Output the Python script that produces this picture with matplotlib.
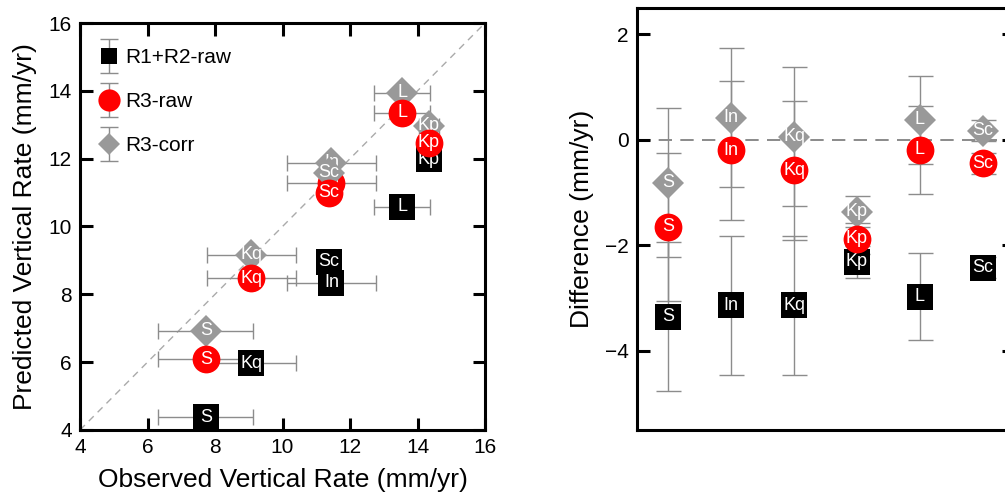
import numpy as np
import matplotlib
matplotlib.use("Agg")
import matplotlib.pyplot as plt
from matplotlib.lines import Line2D
from matplotlib.path import Path

plt.rcParams['font.family'] = ['Liberation Sans', 'DejaVu Sans']

sites = ['S', 'In', 'Kq', 'Kp', 'L', 'Sc']

# left panel: observed vs predicted (mm/yr)
obs = [7.73, 11.45, 9.07, 14.34, 13.55, 11.38]
obs_err = [1.41, 1.32, 1.32, 0.30, 0.83, 0.20]
pred_r12raw = [4.38, 8.34, 5.97, 11.99, 10.58, 8.96]
pred_r3raw = [6.09, 11.29, 8.48, 12.47, 13.35, 10.99]
pred_r3corr = [6.92, 11.88, 9.16, 12.97, 13.94, 11.58]

# right panel: differences (mm/yr)
diff_r12raw = [-3.35, -3.14, -3.14, -2.31, -2.97, -2.42]
diff_r3raw = [-1.65, -0.20, -0.58, -1.87, -0.19, -0.44]
diff_r3corr = [-0.81, 0.42, 0.06, -1.36, 0.38, 0.17]

# name, marker, colour, markersize, legend markersize
series = [
    ('R1+R2-raw', 's', 'black', 19, 11),
    ('R3-corr', 'D', '#999999', 16, 11),
    ('R3-raw', 'o', 'red', 20, 16),
]
left_vals = {'R1+R2-raw': pred_r12raw, 'R3-raw': pred_r3raw, 'R3-corr': pred_r3corr}
right_vals = {'R1+R2-raw': diff_r12raw, 'R3-raw': diff_r3raw, 'R3-corr': diff_r3corr}

# stacking order of the labelled markers
black_rank = {'Sc': 0, 'S': 1, 'Kq': 2, 'Kp': 3, 'L': 4, 'In': 5}
col_rank = {'S': 0, 'Kq': 1, 'Kp': 2, 'L': 3, 'In': 4, 'Sc': 5}


def zorder(name, site):
    if name == 'R1+R2-raw':
        return 3 + black_rank[site] * 0.1
    return 10 + col_rank[site] + (0.5 if name == 'R3-raw' else 0)


ecol = '#8c8c8c'
fig = plt.figure(figsize=(10.05, 4.94), dpi=100)
ax1 = fig.add_axes([0.0796, 0.1296, 0.403, 0.8238])
ax2 = fig.add_axes([0.6338, 0.1296, 0.3752, 0.8542])


def draw(ax, xs, vals, err, horiz, capsize):
    for name, mk, col, ms, lms in series:
        yv = vals[name]
        if horiz:
            ax.errorbar(xs, yv, xerr=err, fmt='none', ecolor=ecol, elinewidth=1,
                        capsize=capsize, capthick=1, zorder=2)
        else:
            ax.errorbar(xs, yv, yerr=err, fmt='none', ecolor=ecol, elinewidth=1,
                        capsize=capsize, capthick=1, zorder=2)
        for x, y, s in zip(xs, yv, sites):
            z = zorder(name, s)
            ax.plot([x], [y], ls='none', marker=mk, color=col, ms=ms, mew=0, zorder=z)
            ax.text(x, y, s, color='white', fontsize=13, ha='center', va='center',
                    zorder=z + 0.05)


# ---- left
ax1.plot([4, 16], [4, 16], color='#aaaaaa', lw=1, dashes=(5, 4), zorder=1)
draw(ax1, obs, left_vals, obs_err, True, 6)

# legend: vertical error bar with caps behind each marker
ebar_path = Path([(0, -1), (0, 1), (-0.53, -1), (0.53, -1), (-0.53, 1), (0.53, 1)],
                 [Path.MOVETO, Path.LINETO, Path.MOVETO, Path.LINETO,
                  Path.MOVETO, Path.LINETO])
handles, labels = [], []
for name in ['R1+R2-raw', 'R3-raw', 'R3-corr']:
    mk, col, ms, lms = {s[0]: s[1:] for s in series}[name]
    bar = Line2D([], [], ls='none', marker=ebar_path, ms=24.5, mfc='none',
                 mec=ecol, mew=1)
    dot = Line2D([], [], ls='none', marker=mk, color=col, ms=lms, mew=0)
    handles.append((bar, dot))
    labels.append(name)
ax1.legend(handles, labels, loc='upper left', bbox_to_anchor=(0.0, 0.985),
           frameon=False, fontsize=15, handlelength=1.0, handletextpad=0.25,
           labelspacing=1.2, borderaxespad=0.5)

ax1.set_xlim(4, 16)
ax1.set_ylim(4, 16)
ax1.set_xticks(range(4, 17, 2))
ax1.set_yticks(range(4, 17, 2))
ax1.set_xlabel('Observed Vertical Rate (mm/yr)', fontsize=19, labelpad=8)
ax1.set_ylabel('Predicted Vertical Rate (mm/yr)', fontsize=19, labelpad=8)

# ---- right
xpos = np.arange(1, len(sites) + 1)
ax2.axhline(0, color='#777777', lw=1.2, dashes=(8, 5), zorder=1)
draw(ax2, xpos, right_vals, obs_err, False, 9)

ax2.set_xlim(0.5, 6.5)
ax2.set_ylim(-5.5, 2.5)
ax2.set_yticks([-4, -2, 0, 2])
ax2.set_xticks([])
ax2.set_ylabel('Difference (mm/yr)', fontsize=19, labelpad=8)

for ax in (ax1, ax2):
    for sp in ax.spines.values():
        sp.set_linewidth(2.2)
    ax.tick_params(direction='in', length=9, width=2.2, labelsize=15,
                   top=True, right=True, pad=6)
ax2.tick_params(axis='x', top=False, bottom=False)

fig.savefig('out.png', dpi=100)
